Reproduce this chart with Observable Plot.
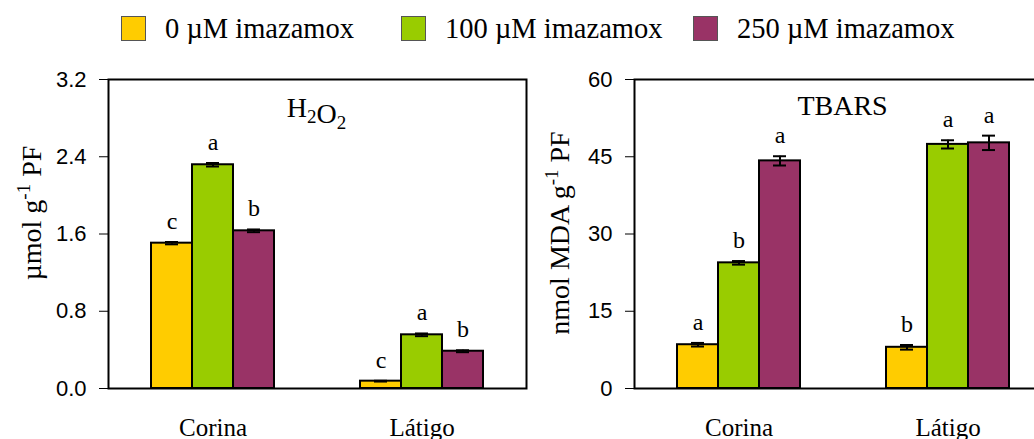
<!DOCTYPE html>
<html>
<head>
<meta charset="utf-8">
<script src="https://cdn.jsdelivr.net/npm/d3@7"></script>
<script src="https://cdn.jsdelivr.net/npm/@observablehq/plot@0.6"></script>
<style>
  html, body { margin: 0; padding: 0; background: #fff; overflow: hidden; width: 1034px; height: 439px; }
  #wrap { position: relative; width: 1034px; height: 439px; overflow: hidden; }
  #legend { position: absolute; left: 0; top: 0; height: 58px; width: 1034px;
            font-family: "Liberation Serif", "Times New Roman", serif; font-size: 28.5px; color: #000; }
  .item { position: absolute; top: 0; height: 58px; display: flex; align-items: center; white-space: nowrap; }
  .swatch { width: 23px; height: 23px; border: 1.5px solid #555; margin-right: 19px; margin-top: -2px; }
  #left, #right { position: absolute; top: 60px; width: 540px; height: 379px; }
  #left { left: 0; }
  #right { left: 540px; }
  #left svg, #right svg { max-width: none; }
</style>
</head>
<body>
<div id="wrap">
  <div id="legend"></div>
  <div id="left"></div>
  <div id="right"></div>
</div>
<script>
// Cultivars, treatments and colours
const cultivars = ["Corina", "Látigo"];
const treatments = ["0 µM imazamox", "100 µM imazamox", "250 µM imazamox"];
const treatmentColors = ["#FFCC00", "#99CC00", "#993366"];

// H2O2 content (µmol g-1 PF): means, errors and significance letters per cultivar
const h2o2Corina = [1.505, 2.317, 1.633];
const h2o2Latigo = [0.076, 0.556, 0.386];
const h2o2ErrCorina = [0.012, 0.018, 0.014];
const h2o2ErrLatigo = [0.004, 0.014, 0.01];
const h2o2LettersCorina = ["c", "a", "b"];
const h2o2LettersLatigo = ["c", "a", "b"];

// TBARS content (nmol MDA g-1 PF)
const tbarsCorina = [8.5, 24.4, 44.2];
const tbarsLatigo = [8.0, 47.4, 47.7];
const tbarsErrCorina = [0.35, 0.35, 0.9];
const tbarsErrLatigo = [0.45, 0.8, 1.4];
const tbarsLettersCorina = ["a", "b", "a"];
const tbarsLettersLatigo = ["b", "a", "a"];

// Axis ticks
const h2o2Ticks = [0, 0.8, 1.6, 2.4, 3.2];
const tbarsTicks = [0, 15, 30, 45, 60];

const serif = "'Liberation Serif', 'Times New Roman', serif";
const sans = "'Liberation Sans', Arial, sans-serif";

function rowsFrom(byCultivar) {
  const rows = [];
  byCultivar.forEach(([cultivar, values, errs, letters]) => {
    values.forEach((v, i) => rows.push({cultivar, treatment: treatments[i], value: v, err: errs[i], letter: letters[i]}));
  });
  return rows;
}

// Legend
const legend = d3.select("#legend");
const legendLeft = [121, 401, 693];
treatments.forEach((t, i) => {
  const item = legend.append("div").attr("class", "item").style("left", legendLeft[i] + "px");
  item.append("div").attr("class", "swatch").style("background", treatmentColors[i]);
  item.append("span").text(t);
});

function panel({rows, yMax, ticks, fmt, width, marginLeft, marginRight, title, label}) {
  const plot = Plot.plot({
    width,
    height: 379,
    marginLeft,
    marginRight,
    marginTop: 19,
    marginBottom: 51,
    style: {fontFamily: sans, fontSize: "22px", color: "#000", background: "transparent", overflow: "visible"},
    fx: {domain: cultivars, padding: 0, label: null},
    x: {domain: treatments, paddingInner: 0, paddingOuter: 1, axis: null},
    y: {domain: [0, yMax], axis: null},
    color: {domain: treatments, range: treatmentColors},
    marks: [
      Plot.barY(rows, {fx: "cultivar", x: "treatment", y: "value", fill: "treatment", stroke: "#000", strokeWidth: 2}),
      Plot.ruleX(rows, {fx: "cultivar", x: "treatment", y1: d => d.value - d.err, y2: d => d.value + d.err, stroke: "#000", strokeWidth: 2}),
      Plot.tickY(rows, {fx: "cultivar", x: "treatment", y: d => d.value + d.err, insetLeft: 14, insetRight: 14, stroke: "#000", strokeWidth: 2}),
      Plot.tickY(rows, {fx: "cultivar", x: "treatment", y: d => d.value - d.err, insetLeft: 14, insetRight: 14, stroke: "#000", strokeWidth: 2}),
      Plot.text(rows, {fx: "cultivar", x: "treatment", y: d => d.value + d.err, text: "letter", dy: -13, lineAnchor: "bottom", fontFamily: serif, fontSize: 24, fill: "#000"}),
      Plot.axisY({ticks, tickFormat: fmt, tickSize: 9, tickPadding: 13, label: null, fontSize: 22}),
      Plot.axisFx({anchor: "bottom", tickSize: 0, tickPadding: 30, label: null, fontFamily: serif, fontSize: 25}),
      Plot.frame({facet: "super", stroke: "#000", strokeWidth: 2})
    ]
  });
  const svg = d3.select(plot);
  const cx = (marginLeft + width - marginRight) / 2;
  // panel title, with optional subscripts
  const t = svg.append("text").attr("x", cx).attr("y", title.y).attr("text-anchor", "middle")
    .style("font-family", serif).style("font-size", "28px").attr("fill", "#000");
  title.parts.forEach(([s, sub]) => {
    if (sub) {
      t.append("tspan").attr("dy", 6).style("font-size", "19px").text(s);
      t.append("tspan").attr("dy", -6).text("");
    } else t.append("tspan").text(s);
  });
  // y-axis title with superscript
  const yl = svg.append("text").attr("transform", `translate(${label.x},${label.y}) rotate(-90)`)
    .attr("text-anchor", "middle").style("font-family", serif).style("font-size", "28px").attr("fill", "#000");
  yl.append("tspan").text(label.before);
  yl.append("tspan").attr("dy", -11).style("font-size", "19px").text("-1");
  yl.append("tspan").attr("dy", 11).text(" PF");
  return plot;
}

const h2o2Rows = rowsFrom([
  ["Corina", h2o2Corina, h2o2ErrCorina, h2o2LettersCorina],
  ["Látigo", h2o2Latigo, h2o2ErrLatigo, h2o2LettersLatigo]
]);
const tbarsRows = rowsFrom([
  ["Corina", tbarsCorina, tbarsErrCorina, tbarsLettersCorina],
  ["Látigo", tbarsLatigo, tbarsErrLatigo, tbarsLettersLatigo]
]);

document.getElementById("left").appendChild(panel({
  rows: h2o2Rows, yMax: 3.2, ticks: h2o2Ticks, fmt: d3.format(".1f"),
  width: 540, marginLeft: 107, marginRight: 14,
  title: {y: 57, parts: [["H"], ["2", true], ["O"], ["2", true]]},
  label: {x: 41, y: 153, before: "µmol g"}
}));

document.getElementById("right").appendChild(panel({
  rows: tbarsRows, yMax: 60, ticks: tbarsTicks, fmt: d3.format("d"),
  width: 540, marginLeft: 93, marginRight: 28,
  title: {y: 55, parts: [["TBARS"]]},
  label: {x: 29, y: 173, before: "nmol MDA g"}
}));
</script>
</body>
</html>
